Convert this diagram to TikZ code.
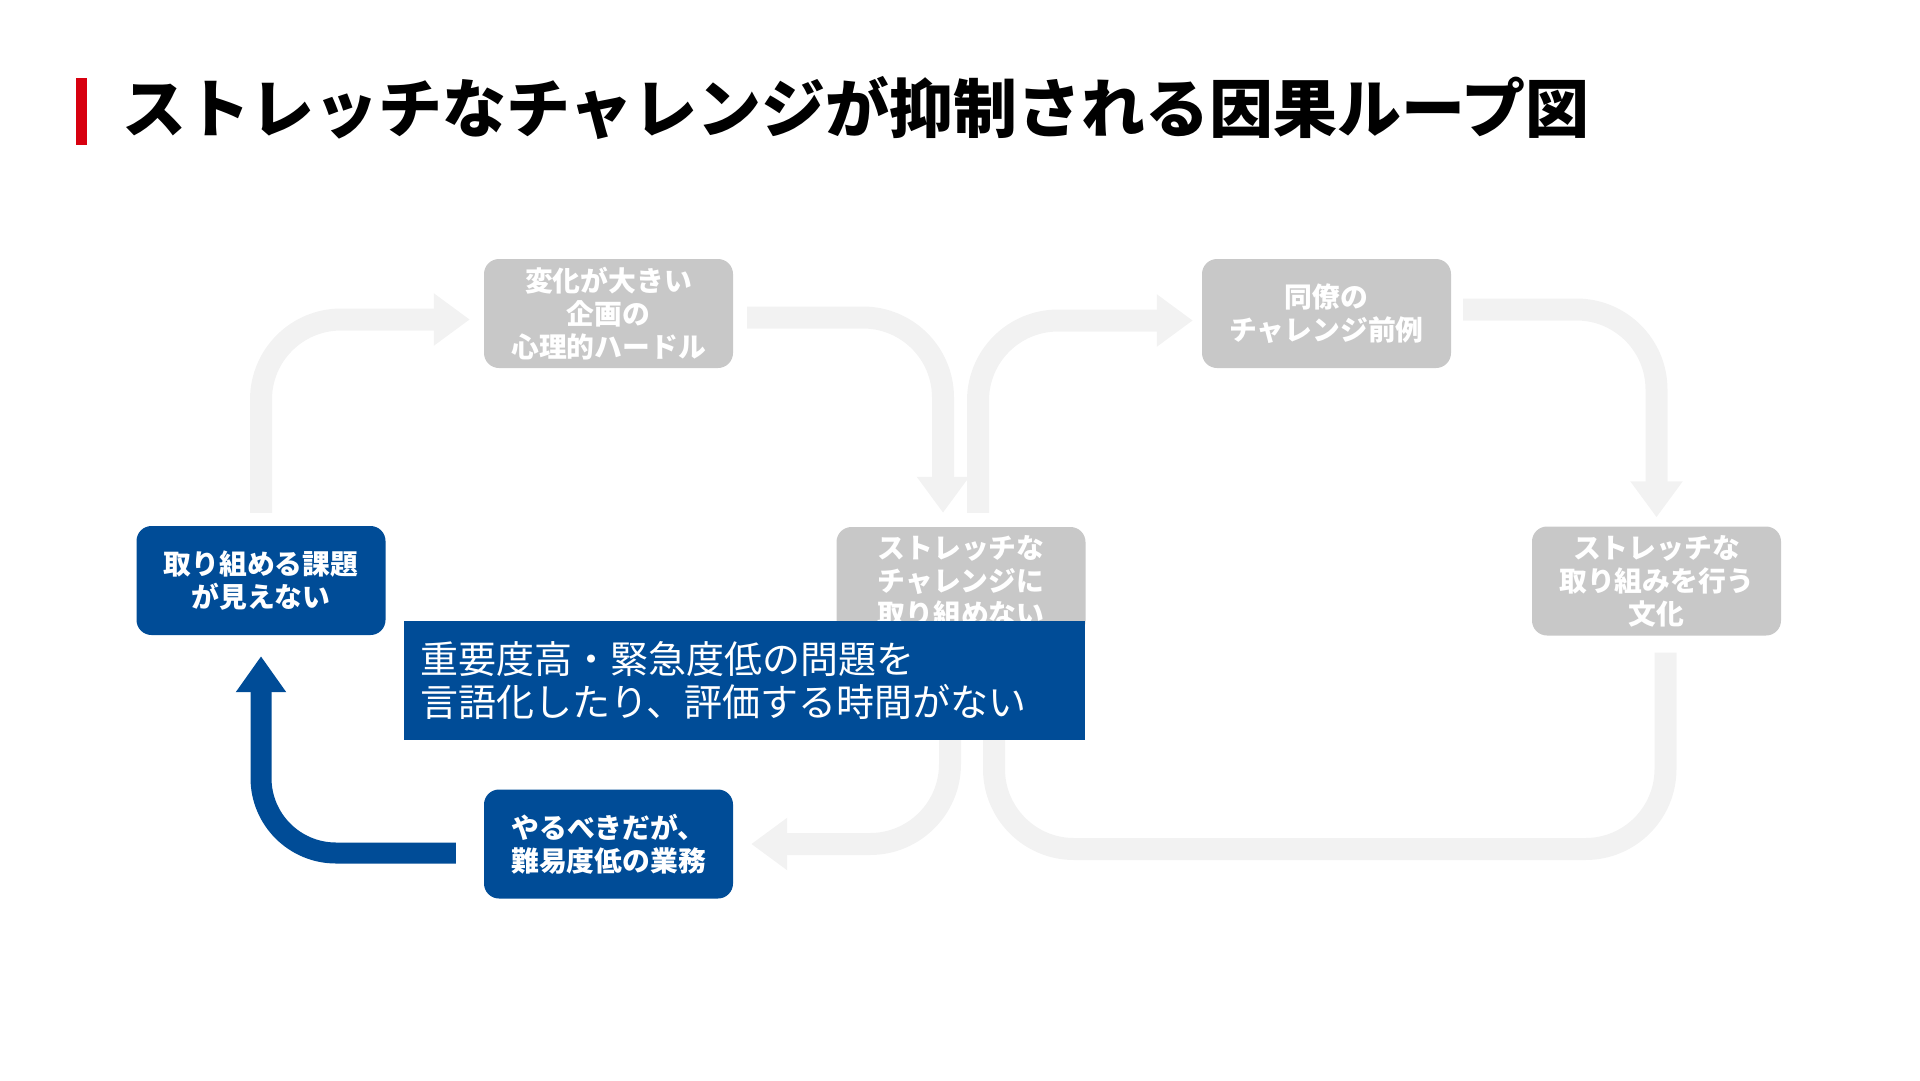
\documentclass[tikz,border=0pt]{standalone}
\usepackage{fontspec}
\setmainfont{Noto Sans CJK JP}
\usepackage{xcolor}
\usetikzlibrary{arrows.meta}

\definecolor{keyblue}{HTML}{004C97}
\definecolor{boxgrey}{HTML}{C8C8C8}
\definecolor{flowgrey}{HTML}{F2F2F2}
\definecolor{titlered}{HTML}{D7000F}

\begin{document}
\begin{tikzpicture}[x=1pt, y=-1pt, every node/.style={font=\fontsize{27.8}{33}\selectfont\bfseries, text=white}]
    \tikzstyle{block} = [rectangle, rounded corners=15pt, fill=boxgrey, minimum width=249pt, minimum height=109pt, align=center, inner sep=0pt]
    \tikzstyle{keyblock} = [block, fill=keyblue]
    \tikzstyle{flow} = [draw=flowgrey, line width=22pt, rounded corners=80pt]
    \tikzstyle{keyflow} = [draw=keyblue, line width=21pt, rounded corners=75pt]

    \useasboundingbox (0,0) rectangle (1920,1080);

    % title
    \fill[titlered] (76,78) rectangle (87,145);
    \node[anchor=west, inner sep=0pt, text=black, font=\fontsize{64}{70}\selectfont\bfseries] (title) at (122,108) {ストレッチなチャレンジが抑制される因果ループ図};

    % loop nodes
    \node[keyblock] (see) at (261,580.5) {取り組める課題\\が見えない};
    \node[block] (hurdle) at (608.5,313.5) {変化が大きい\\企画の\\心理的ハードル};
    \node[block] (stretch) at (961,581.5) {ストレッチな\\チャレンジに\\取り組めない};
    \node[block] (peer) at (1326.5,313.5) {同僚の\\チャレンジ前例};
    \node[block] (culture) at (1656.5,581) {ストレッチな\\取り組みを行う\\文化};
    \node[keyblock] (chore) at (608.5,844) {やるべきだが、\\難易度低の業務};
    \coordinate (basecorner) at (994,849);

    % left loop
    \draw[flow, -{Triangle[length=36pt, width=50pt]}] ([yshift=13pt]see.north) |- ([xshift=-14pt, yshift=-6pt]hurdle.west);
    \draw[flow, -{Triangle[length=36pt, width=50pt]}] ([xshift=14pt, yshift=-4pt]hurdle.east) -| ([xshift=-18pt, yshift=14pt]stretch.north);
    \draw[flow, -{Triangle[length=36pt, width=50pt]}] ([xshift=-11pt]stretch.south) |- ([xshift=18pt]chore.east);
    \draw[keyflow, -{Triangle[length=36pt, width=48pt]}] ([xshift=-28pt, yshift=-9pt]chore.west) -| ([yshift=-21pt]see.south);

    % right loop
    \draw[flow, -{Triangle[length=36pt, width=50pt]}] ([xshift=17pt, yshift=14pt]stretch.north) |- ([xshift=-9pt, yshift=-7pt]peer.west);
    \draw[flow, -{Triangle[length=36pt, width=50pt]}] ([xshift=12pt, yshift=4pt]peer.east) -| ([yshift=9pt]culture.north);
    \draw[flow, shorten <=17pt] ([xshift=9pt]culture.south) |- (basecorner) -- ([xshift=33pt]stretch.south);

    % overlay message
    \node[rectangle, fill=keyblue, minimum width=681pt, minimum height=119pt, text width=649pt, inner xsep=16pt, inner ysep=0pt, align=left, font=\fontsize{38}{43}\selectfont] (issue) at (744.5,680.5) {\raisebox{3pt}{\parbox{649pt}{重要度高・緊急度低の問題を\\言語化したり、評価する時間がない}}};
\end{tikzpicture}
\end{document}
